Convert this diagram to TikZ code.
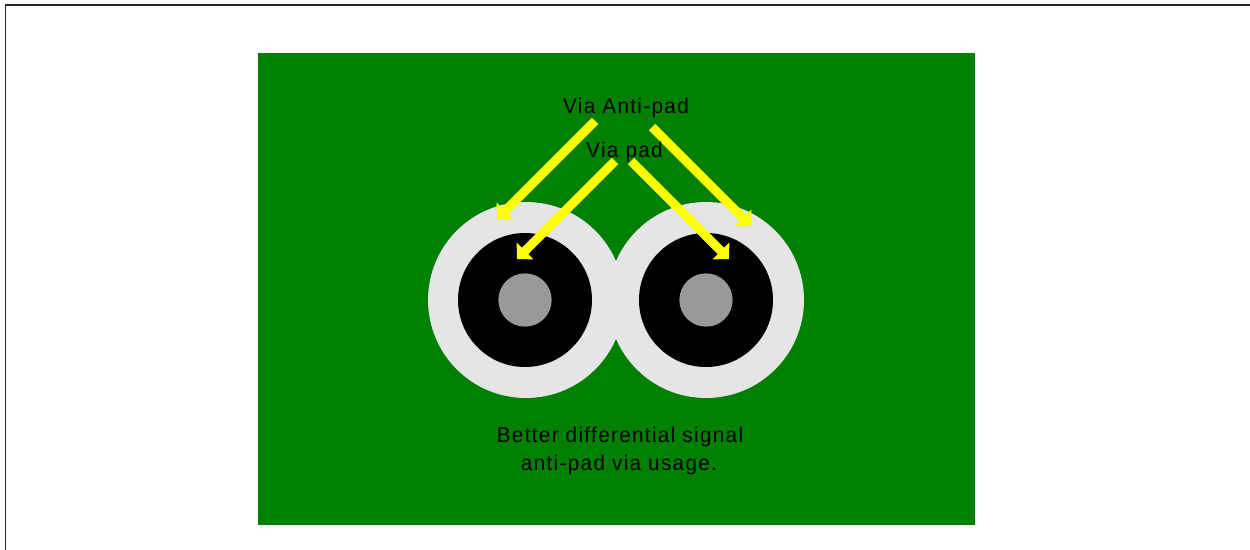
\documentclass[tikz,border=0pt]{standalone}
\usepackage{fontspec}
\setmainfont[LetterSpace=6.2,FakeStretch=0.97]{Liberation Sans}
\usetikzlibrary{arrows.meta}
\definecolor{boardgreen}{RGB}{0,128,0}
\definecolor{antipad}{RGB}{229,229,229}
\definecolor{drillgray}{RGB}{153,153,153}
\definecolor{pointeryellow}{RGB}{255,255,0}
\tikzset{
  x=0.75pt,y=-0.75pt,
  outerpad/.style={circle,fill=antipad,minimum size=147pt,inner sep=0pt,outer sep=0pt},
  viapad/.style={circle,fill=black,minimum size=100.5pt,inner sep=0pt,outer sep=0pt},
  drill/.style={circle,fill=drillgray,minimum size=40pt,inner sep=0pt,outer sep=0pt},
  label/.style={anchor=base,inner sep=0pt,text=black,font=\fontsize{16}{18}\selectfont},
  pointer/.style={draw=pointeryellow,line width=6.8pt,-{Triangle[length=8.6pt,width=17.5pt,fill=pointeryellow]}}
}
\begin{document}
\begin{tikzpicture}
\useasboundingbox (0,0) rectangle (1250,550);
\draw[line width=1.4pt,draw=black!85] (5.5,550) -- (5.5,5) -- (1250,5);
\fill[boardgreen] (258,53) rectangle (975,525);
\node[outerpad] (outerL) at (526,300) {};
\node[outerpad] (outerR) at (706,300) {};
\node[viapad] (padL) at (525,300) {};
\node[viapad] (padR) at (706,300) {};
\node[drill] (drillL) at (525,300) {};
\node[drill] (drillR) at (706,300) {};
\coordinate (a1s) at (595,121);
\coordinate (a1e) at (497,219);
\coordinate (a2s) at (615,161);
\coordinate (a2e) at (517,259);
\coordinate (a3s) at (631,161);
\coordinate (a3e) at (729,259);
\coordinate (a4s) at (652,127);
\coordinate (a4e) at (751,226);
\draw[pointer] (a1s) -- (a1e);
\draw[pointer] (a2s) -- (a2e);
\draw[pointer] (a3s) -- (a3e);
\draw[pointer] (a4s) -- (a4e);
\node[label] (anti) at (626,113) {Via Anti-pad};
\node[label] (via) at (624.5,157) {Via pad};
\node[label] (cap1) at (620,442) {Better differential signal};
\node[label] (cap2) at (619,470) {anti-pad via usage.};
\end{tikzpicture}
\end{document}
